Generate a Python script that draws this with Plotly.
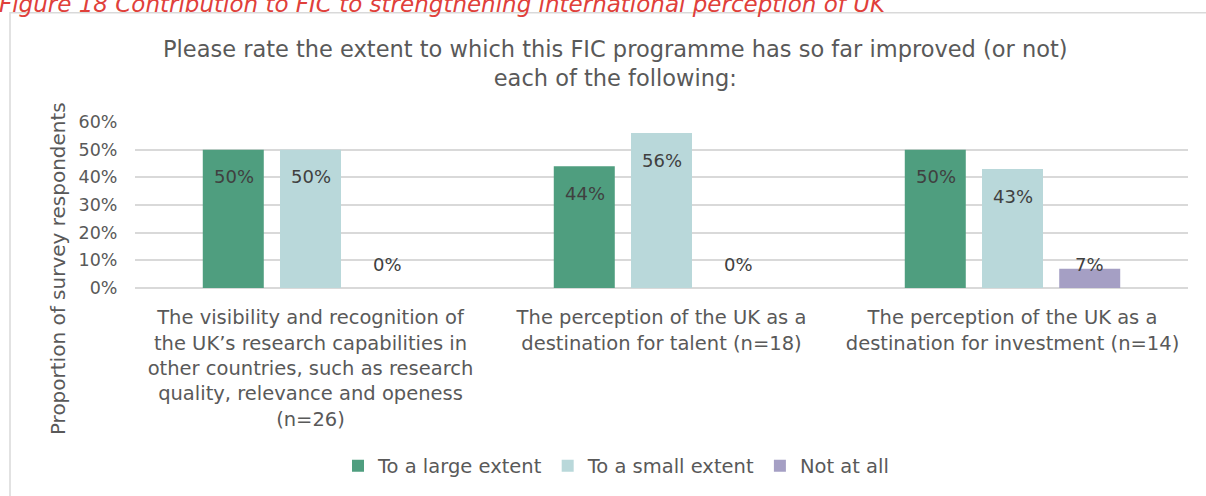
import plotly.graph_objects as go

categories = [
    "The visibility and recognition of<br>the UK’s research capabilities in<br>other countries, such as research<br>quality, relevance and openess<br>(n=26)",
    "The perception of the UK as a<br>destination for talent (n=18)",
    "The perception of the UK as a<br>destination for investment (n=14)",
]
series_names = ["To a large extent", "To a small extent", "Not at all"]
large_extent = [0.50, 0.44, 0.50]
small_extent = [0.50, 0.56, 0.43]
not_at_all = [0.00, 0.00, 0.07]
colors = ["#4F9E7F", "#B9D8DA", "#A59FC4"]
tick_vals = [0, 0.1, 0.2, 0.3, 0.4, 0.5, 0.6]
tick_text = ["0%", "10%", "20%", "30%", "40%", "50%", "60%"]

FONT = "DejaVu Sans"
GREY = "#595959"

fig = go.Figure()
all_series = [large_extent, small_extent, not_at_all]
for name, vals, col in zip(series_names, all_series, colors):
    fig.add_trace(go.Bar(x=categories, y=vals, name=name, marker_color=col,
                         marker_line_width=0, offsetgroup=name))

# data labels
slot_px = 77
for i, vals in enumerate(all_series):
    for j, v in enumerate(vals):
        if v >= 0.15:
            y, ys = v, -27
        else:
            y, ys = 0, 24
        fig.add_annotation(x=categories[j], y=y, xref="x", yref="y",
                           text=f"{round(v*100)}%", showarrow=False,
                           xshift=(i - 1) * slot_px, yshift=ys,
                           font=dict(family=FONT, size=18, color="#404040"))

W, H = 1206, 496
L, R, T, B = 135, 1188, 122, 289

def px(x):
    return (x - L) / (R - L)

def py(y):
    return (B - y) / (B - T)

fig.add_annotation(xref="paper", yref="paper", x=px(-3), y=py(3), xanchor="left",
                   yanchor="middle", showarrow=False,
                   text="<i>Figure 18 Contribution to FIC to strengthening international perception of UK</i>",
                   font=dict(family=FONT, size=23, color="#E0403A"))
fig.add_annotation(xref="paper", yref="paper", x=px(615), y=py(63), xanchor="center",
                   yanchor="middle", showarrow=False,
                   text="Please rate the extent to which this FIC programme has so far improved (or not)<br>each of the following:",
                   font=dict(family=FONT, size=22.5, color=GREY))
fig.add_annotation(xref="paper", yref="paper", x=px(58), y=py(270), xanchor="center",
                   yanchor="middle", showarrow=False, textangle=-90,
                   text="Proportion of survey respondents",
                   font=dict(family=FONT, size=20, color=GREY))

fig.add_shape(type="rect", xref="paper", yref="paper", x0=px(10), x1=px(1210),
              y0=py(500), y1=py(12), line=dict(color="#D9D9D9", width=1.5),
              fillcolor="rgba(0,0,0,0)", layer="below")

fig.update_layout(
    width=W, height=H,
    margin=dict(l=L, r=W - R, t=T, b=H - B, pad=0),
    paper_bgcolor="white", plot_bgcolor="white",
    barmode="group", bargap=0.34, bargroupgap=0.21,
    font=dict(family=FONT, color=GREY),
    legend=dict(orientation="h", x=px(616), y=py(466), xanchor="center", yanchor="middle",
                font=dict(family=FONT, size=19.5, color=GREY), itemsizing="constant",
                traceorder="normal", itemwidth=30),
    showlegend=True,
)
fig.update_yaxes(range=[0, 0.6], tickvals=tick_vals, ticktext=tick_text,
                 showgrid=True, gridcolor="#D9D9D9", gridwidth=1.5,
                 zeroline=True, zerolinecolor="#D9D9D9", zerolinewidth=1.5,
                 tickfont=dict(family=FONT, size=17.5, color=GREY),
                 ticks="outside", ticklen=13, tickcolor="rgba(0,0,0,0)",
                 showline=False)
fig.update_xaxes(tickfont=dict(family=FONT, size=19.5, color=GREY),
                 showline=False, ticks="outside", ticklen=12, tickcolor="rgba(0,0,0,0)")

fig.write_html("out.html")
